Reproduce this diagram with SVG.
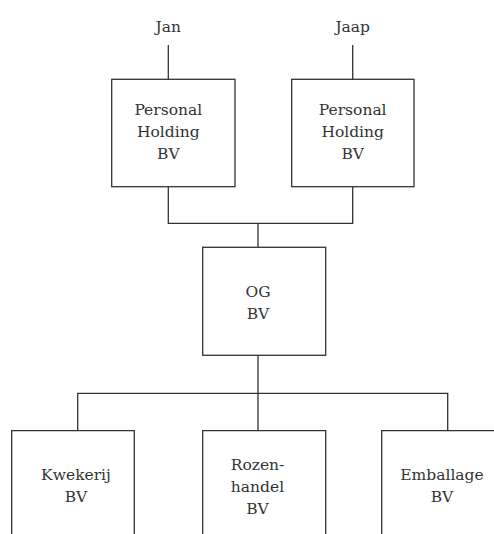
<svg xmlns="http://www.w3.org/2000/svg" width="494" height="534" viewBox="0 0 494 534">
<style>
.box{fill:#fff;stroke:#333;stroke-width:1.3}
.ln{fill:none;stroke:#333;stroke-width:1.3}
text{font-family:"DejaVu Serif","Liberation Serif",serif;font-size:15.5px;fill:#333;text-anchor:middle}
</style>
<rect width="494" height="534" fill="#fff"/>
<g id="connectors">
<path class="ln" d="M168.3,45V79.3M352.7,45V79.3"/>
<path class="ln" d="M168.3,186.7V223.3H352.7V186.7M258,223.3V247.3"/>
<path class="ln" d="M258,355.3V430.7M77.7,430.7V393.3H447.7V430.7"/>
</g>
<g id="jan"><text x="168.3" y="31.7">Jan</text></g>
<g id="jaap"><text x="352.7" y="31.7">Jaap</text></g>
<g id="ph1">
<rect class="box" x="111.7" y="79.3" width="123.3" height="107.4"/>
<text x="168.3" y="114.5">Personal</text>
<text x="168.3" y="136.5">Holding</text>
<text x="168.3" y="158.5">BV</text>
</g>
<g id="ph2">
<rect class="box" x="291.7" y="79.3" width="122.3" height="107.4"/>
<text x="352.7" y="114.5">Personal</text>
<text x="352.7" y="136.5">Holding</text>
<text x="352.7" y="158.5">BV</text>
</g>
<g id="og">
<rect class="box" x="202.7" y="247.3" width="123" height="108"/>
<text x="258" y="297.3">OG</text>
<text x="258" y="319.3">BV</text>
</g>
<g id="kwekerij">
<path class="box" d="M11.7,535V430.7H134.3V535"/>
<text x="76" y="480">Kwekerij</text>
<text x="76" y="502">BV</text>
</g>
<g id="rozenhandel">
<path class="box" d="M202.7,535V430.7H325.7V535"/>
<text x="257.5" y="470">Rozen-</text>
<text x="257.5" y="492">handel</text>
<text x="257.5" y="514">BV</text>
</g>
<g id="emballage">
<path class="box" d="M381.7,535V430.7H505"/>
<text x="442" y="480">Emballage</text>
<text x="442" y="502">BV</text>
</g>
</svg>
